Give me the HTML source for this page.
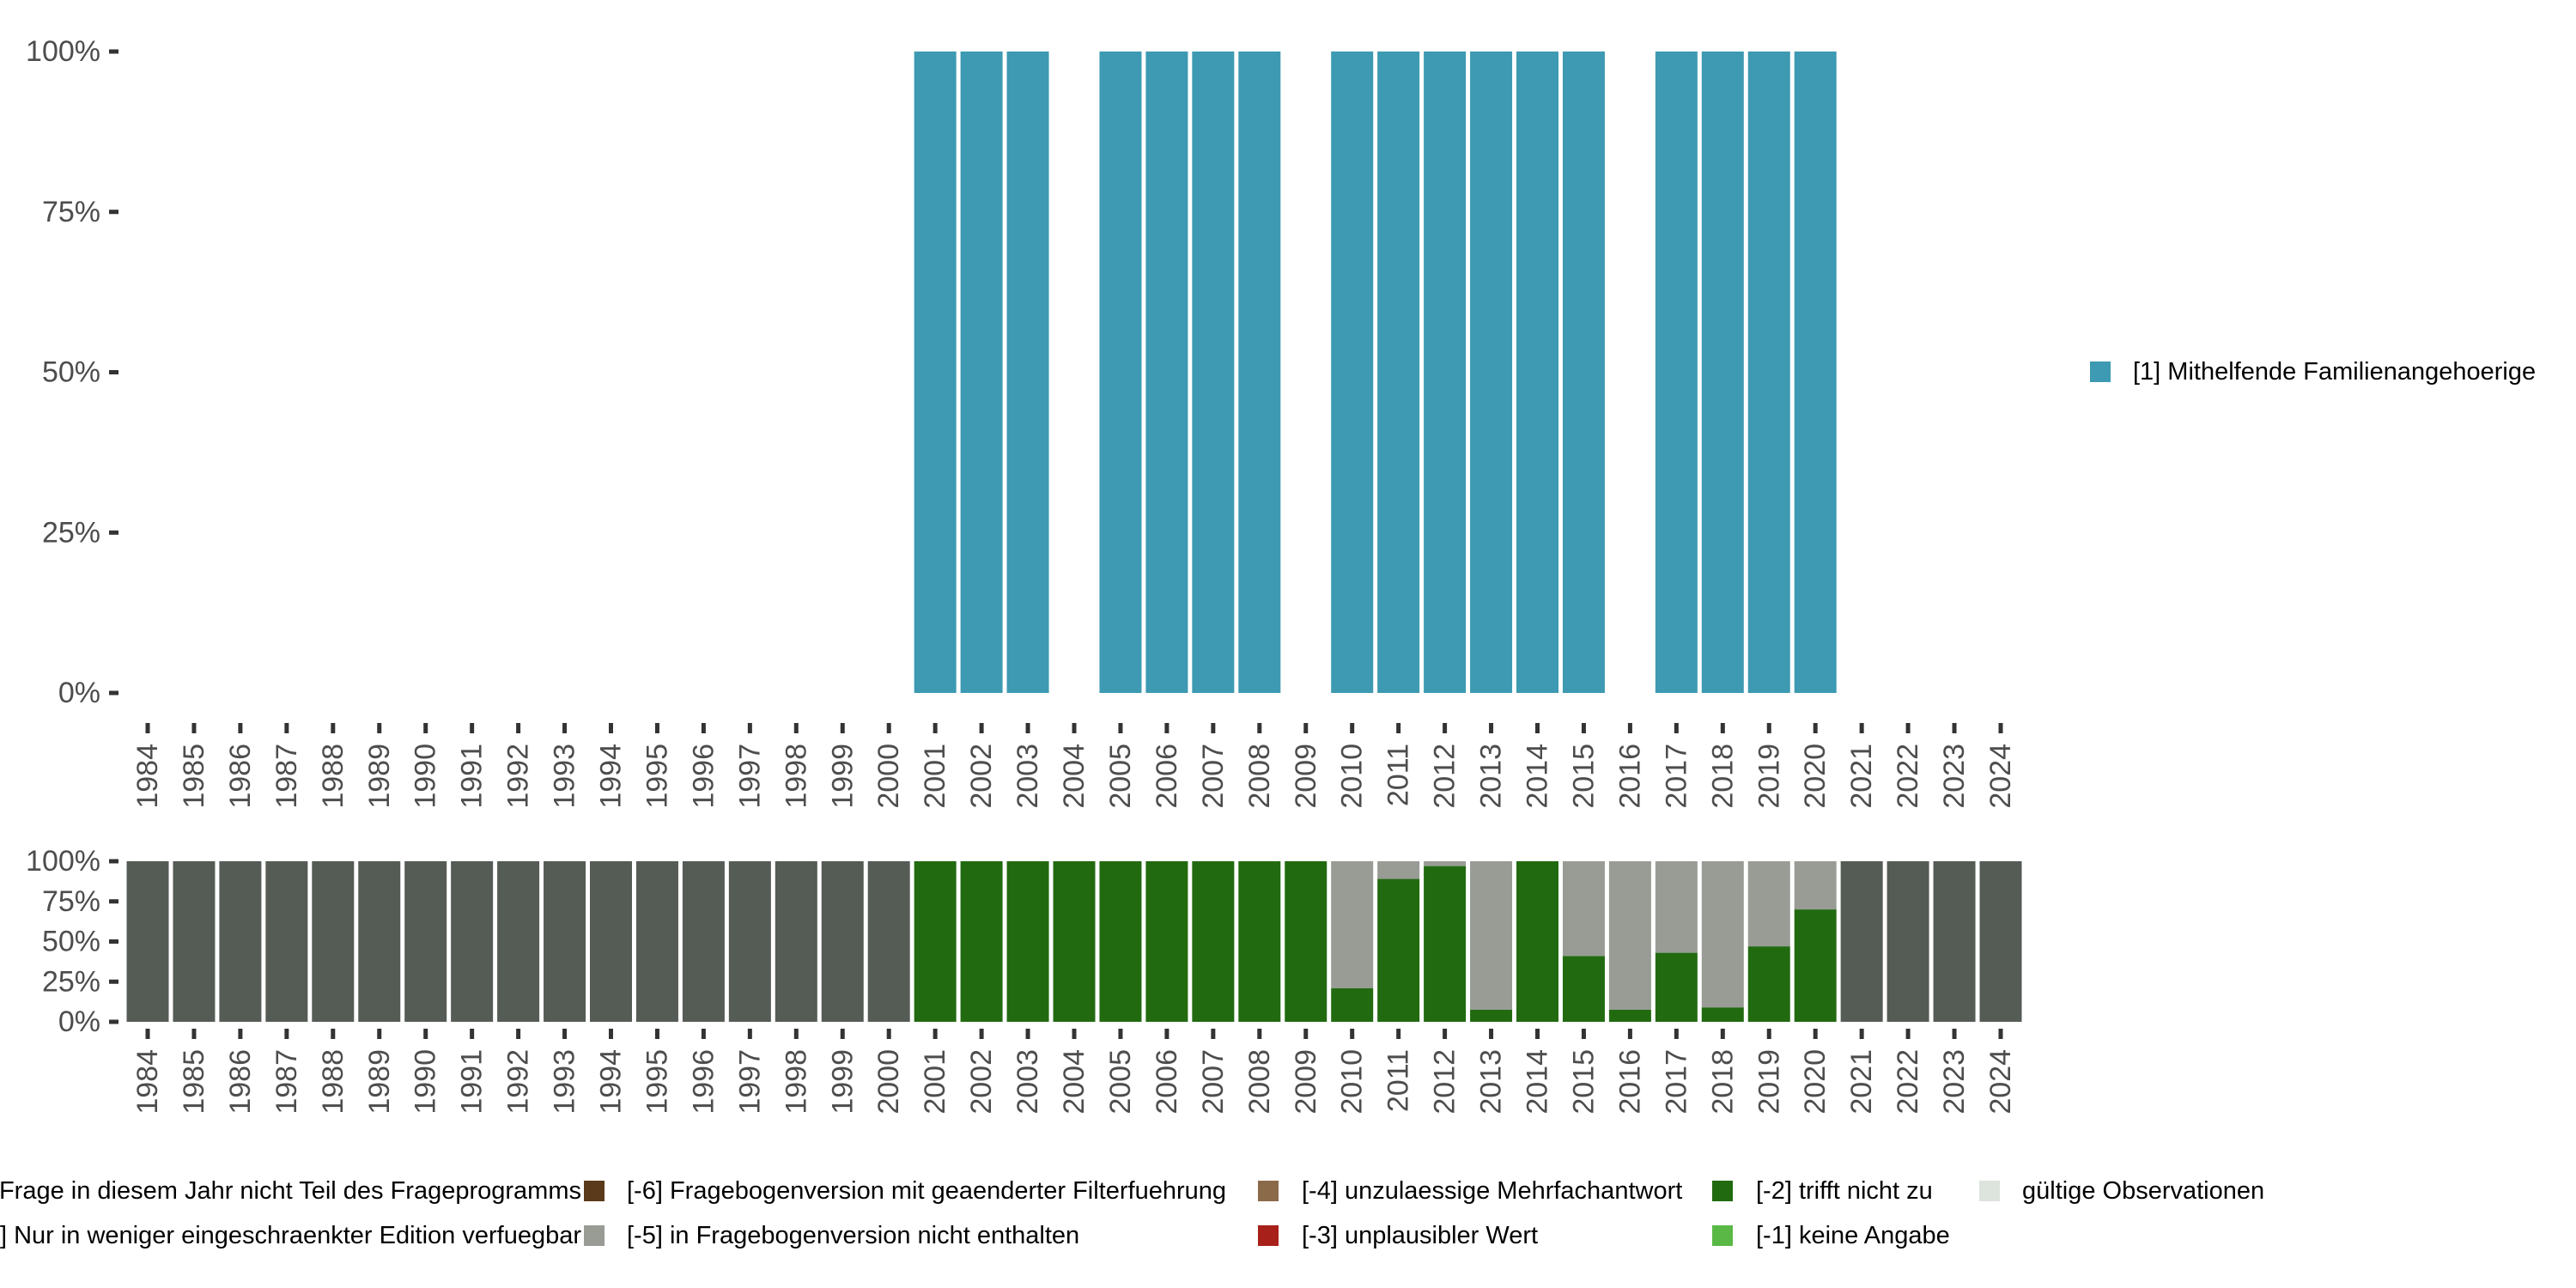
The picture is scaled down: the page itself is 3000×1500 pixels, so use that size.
<!DOCTYPE html>
<html><head><meta charset="utf-8"><style>
html,body{margin:0;padding:0;background:#fff}
svg{display:block;font-family:"Liberation Sans",sans-serif}
</style></head><body>
<svg id="chart" width="3000" height="1500" viewBox="0 0 3000 1500" xmlns="http://www.w3.org/2000/svg">
<g id="top"></g>
<g id="bot"></g>
<g id="leg"></g>
</svg>
<script>
const years = [1984,1985,1986,1987,1988,1989,1990,1991,1992,1993,1994,1995,1996,1997,1998,1999,2000,2001,2002,2003,2004,2005,2006,2007,2008,2009,2010,2011,2012,2013,2014,2015,2016,2017,2018,2019,2020,2021,2022,2023,2024];
const topValues = [0,0,0,0,0,0,0,0,0,0,0,0,0,0,0,0,0,100,100,100,0,100,100,100,100,0,100,100,100,100,100,100,0,100,100,100,100,0,0,0,0];
const notInProgram = [100,100,100,100,100,100,100,100,100,100,100,100,100,100,100,100,100,0,0,0,0,0,0,0,0,0,0,0,0,0,0,0,0,0,0,0,0,100,100,100,100];
const trifftNicht = [0,0,0,0,0,0,0,0,0,0,0,0,0,0,0,0,0,100,100,100,100,100,100,100,100,100,21,89,97,7.5,100,41,7.5,43,9,47,70,0,0,0,0];
const notInVersion = [0,0,0,0,0,0,0,0,0,0,0,0,0,0,0,0,0,0,0,0,0,0,0,0,0,0,79,11,3,92.5,0,59,92.5,57,91,53,30,0,0,0,0];
const yTicks = [0,25,50,75,100];
const yTickLabels = ["0%","25%","50%","75%","100%"];

const NS="http://www.w3.org/2000/svg";
function mk(tag, attrs, parent){const e=document.createElementNS(NS,tag);for(const k in attrs)e.setAttribute(k,attrs[k]);parent.appendChild(e);return e;}
const x0=172, step=53.95, bw=49;
function xs(i){return x0+i*step;}

function panel(g, yTop, yBot, tickY, labY, name){
  const ys=v=>yBot-(yBot-yTop)*v/100;
  yTicks.forEach((t,i)=>{
    const ln=mk('rect',{x:127,y:ys(t)-2.5,width:11,height:5,fill:'#333'},g);
    
    
    const tx=mk('text',{x:117,y:ys(t),'text-anchor':'end','dominant-baseline':'central','font-size':34,fill:'#4d4d4d'},g);
    tx.textContent=yTickLabels[i];
    
    
  });
  years.forEach((yr,i)=>{
    const tk=mk('rect',{x:xs(i)-2.5,y:tickY,width:5,height:12,fill:'#333'},g);
    
    
    const tx=mk('text',{x:0,y:0,'text-anchor':'end','dominant-baseline':'central','font-size':34,fill:'#4d4d4d',transform:`translate(${xs(i)},${labY}) rotate(-90)`},g);
    tx.textContent=yr;
    
    
  });
  return ys;
}
const tg=document.getElementById('top');
const ysT=panel(tg,60,807,842,866,'top');
topValues.forEach((v,i)=>{
  if(v<=0)return;
  const r=mk('rect',{x:xs(i)-bw/2,y:ysT(v),width:bw,height:ysT(0)-ysT(v),fill:'#3d9ab2'},tg);
  
  
});
const bg=document.getElementById('bot');
const ysB=panel(bg,1003,1190,1198,1222,'bottom');
years.forEach((yr,i)=>{
  let acc=0;
  [[trifftNicht,'#216a10','trifft-nicht-zu'],[notInVersion,'#989c95','nicht-enthalten'],[notInProgram,'#555b55','nicht-im-programm']].forEach(([arr,c,n])=>{
    const v=arr[i]; if(v<=0)return;
    const r=mk('rect',{x:xs(i)-bw/2,y:ysB(acc+v),width:bw,height:ysB(acc)-ysB(acc+v),fill:c},bg);
    
    
    acc+=v;
  });
});
const lg=document.getElementById('leg');
function entry(sx,sy,color,text,tx,anchor){
  const s=mk('rect',{x:sx,y:sy-12,width:24,height:24,fill:color},lg);
  
  
  const t=mk('text',{x:tx,y:sy,'dominant-baseline':'central','font-size':29,fill:'#000','text-anchor':anchor||'start'},lg);
  t.textContent=text;
  
  
}
entry(2434,433,'#3d9ab2','[1] Mithelfende Familienangehoerige',2484);
entry(-100,1387,'#555b55','[-8] Frage in diesem Jahr nicht Teil des Frageprogramms',677,'end');
entry(-100,1439,'#989c95','[-7] Nur in weniger eingeschraenkter Edition verfuegbar',677,'end');
entry(680,1387,'#5a3a1a','[-6] Fragebogenversion mit geaenderter Filterfuehrung',730);
entry(680,1439,'#989c95','[-5] in Fragebogenversion nicht enthalten',730);
entry(1465,1387,'#8b6a4a','[-4] unzulaessige Mehrfachantwort',1516);
entry(1465,1439,'#a8201a','[-3] unplausibler Wert',1516);
entry(1994,1387,'#216a10','[-2] trifft nicht zu',2045);
entry(1994,1439,'#5ab946','[-1] keine Angabe',2045);
entry(2305,1387,'#dde3dd','gültige Observationen',2355);
</script>
</body></html>
